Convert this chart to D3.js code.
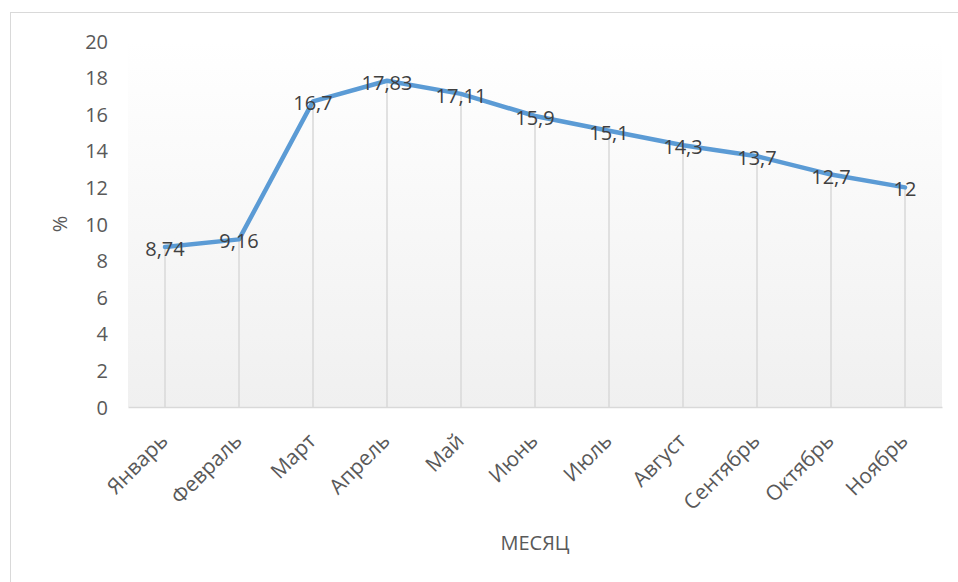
<!DOCTYPE html>
<html><head><meta charset="utf-8">
<script src="https://cdn.jsdelivr.net/npm/d3@7"></script>
<style>body{margin:0;background:#fff}svg{display:block}</style>
</head><body>
<svg id="c" width="958" height="582"></svg>
<script>
const months = ["Январь","Февраль","Март","Апрель","Май","Июнь","Июль","Август","Сентябрь","Октябрь","Ноябрь"];
const values = [8.74, 9.16, 16.7, 17.83, 17.11, 15.9, 15.1, 14.3, 13.7, 12.7, 12];
const labels = ["8,74","9,16","16,7","17,83","17,11","15,9","15,1","14,3","13,7","12,7","12"];
const yTicks = [0,2,4,6,8,10,12,14,16,18,20];

const svg = d3.select("#c");
const font = "'Open Sans', sans-serif";
const L = 128, R = 942, T = 41, B = 407;

svg.append("rect").attr("x",10.5).attr("y",12.5).attr("width",980).attr("height",600)
  .attr("fill","#fff").attr("stroke","#d9d9d9").attr("stroke-width",1);

const defs = svg.append("defs");
const g = defs.append("linearGradient").attr("id","bg").attr("x1",0).attr("y1",0).attr("x2",0).attr("y2",1);
g.append("stop").attr("offset","0%").attr("stop-color","#ffffff");
g.append("stop").attr("offset","100%").attr("stop-color","#f0f0f0");

svg.append("rect").attr("x",L).attr("y",T).attr("width",R-L).attr("height",B-T).attr("fill","url(#bg)");

const x = d3.scaleBand().domain(months).range([L,R]).padding(0);
const y = d3.scaleLinear().domain([0,20]).range([B,T]);
const cx = m => x(m) + x.bandwidth()/2;

// drop lines
svg.append("g").selectAll("line").data(months).join("line")
  .attr("x1",d=>cx(d)).attr("x2",d=>cx(d))
  .attr("y1",(d,i)=>y(values[i])).attr("y2",B)
  .attr("stroke","#d9d9d9").attr("stroke-width",1.5);

// x axis line
const xAxis = d3.axisBottom(x).tickSize(0).tickFormat("");
const xa = svg.append("g").attr("transform",`translate(0,${B})`).call(xAxis);
xa.select(".domain").attr("stroke","#d9d9d9").attr("stroke-width",1.5);

// y axis labels
const yAxis = d3.axisLeft(y).tickValues(yTicks).tickSize(0).tickPadding(0);
const ya = svg.append("g").attr("transform",`translate(108,0)`).call(yAxis);
ya.select(".domain").remove();
ya.selectAll("text").attr("font-family",font).attr("font-size",20).attr("fill","#595959").attr("dy","0.35em");

// x labels
svg.append("g").selectAll("text").data(months).join("text")
  .attr("transform",d=>`translate(${cx(d)-1},437) rotate(-45)`)
  .attr("text-anchor","end").attr("dy","0.35em")
  .attr("font-family",font).attr("font-size",21).attr("fill","#595959")
  .text(d=>d);

// line
const line = d3.line().x((d,i)=>cx(months[i])).y(d=>y(d));
svg.append("path").datum(values).attr("d",line)
  .attr("fill","none").attr("stroke","#5b9bd5").attr("stroke-width",4.5)
  .attr("stroke-linejoin","round").attr("stroke-linecap","round");

// data labels
svg.append("g").selectAll("text").data(values).join("text")
  .attr("x",(d,i)=>cx(months[i])).attr("y",d=>y(d)+2)
  .attr("text-anchor","middle").attr("dy","0.35em")
  .attr("font-family",font).attr("font-size",20).attr("fill","#404040")
  .text((d,i)=>labels[i]);

// axis titles
svg.append("text").attr("transform","translate(60,224) rotate(-90)")
  .attr("text-anchor","middle").attr("dy","0.35em")
  .attr("font-family",font).attr("font-size",20).attr("fill","#595959").text("%");
svg.append("text").attr("x",535).attr("y",543).attr("text-anchor","middle").attr("dy","0.35em")
  .attr("font-family",font).attr("font-size",20).attr("fill","#595959").text("МЕСЯЦ");
</script>
</body></html>
